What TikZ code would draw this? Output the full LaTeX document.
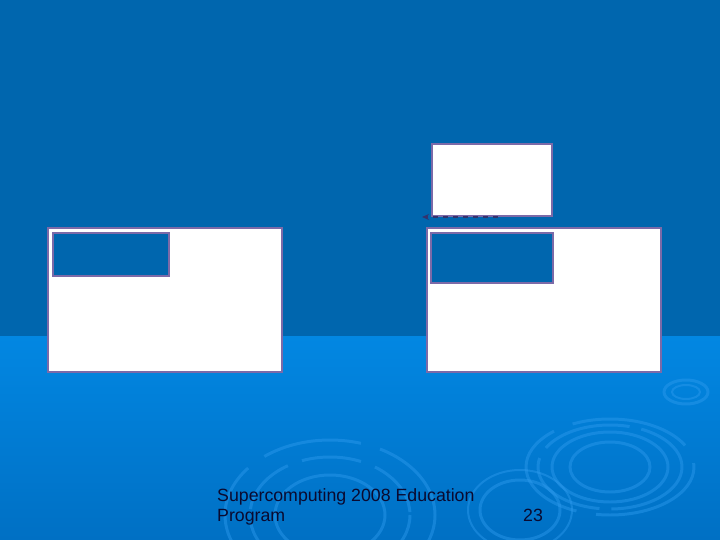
\documentclass[tikz,border=0pt]{standalone}
\usepackage{fontspec}
\setmainfont{Liberation Sans}
\usetikzlibrary{arrows.meta,decorations.markings}
\definecolor{topblue}{HTML}{0066AE}
\definecolor{lowblue}{HTML}{0287E2}
\definecolor{botblue}{HTML}{0070C4}
\definecolor{frame}{HTML}{7C6AA8}
\definecolor{ripple}{HTML}{2E9BEE}
\definecolor{navy}{HTML}{33336E}
\definecolor{textnavy}{HTML}{0A0A30}
\tikzset{
  whitebox/.style={draw=frame, line width=2.5pt, fill=white},
  bluebox/.style={draw=frame, line width=2.5pt, fill=topblue},
  ring/.style={draw=ripple, line width=3pt, opacity=0.45},
  caption/.style={font=\fontsize{17.8}{21}\selectfont, text=textnavy, anchor=base west, inner sep=0pt},
}
\begin{document}
\begin{tikzpicture}[x=1bp,y=-1bp]
\useasboundingbox (0,0) rectangle (720,540);
% background
\fill[topblue] (0,0) rectangle (720,336);
\shade[top color=lowblue, bottom color=botblue] (0,336) rectangle (720,540);
% ripples
\begin{scope}
\clip (0,336) rectangle (720,540);
\draw[ring] (610,467) ellipse (40 and 25);
\draw[ring] (610,467) ellipse (58 and 35);
\draw[ring, dash pattern=on 90 off 12] (610,467) ellipse (72 and 42);
\draw[ring, dash pattern=on 120 off 20] (610,467) ellipse (84 and 48);
\draw[ring] (686,392) ellipse (22 and 12);
\draw[ring, line width=2pt] (686,392) ellipse (14 and 7);
\draw[ring] (520,510) ellipse (40 and 30);
\draw[ring, line width=2pt] (520,510) ellipse (52 and 40);
\draw[ring] (330,515) ellipse (55 and 40);
\draw[ring, dash pattern=on 60 off 15] (330,515) ellipse (80 and 58);
\draw[ring, dash pattern=on 100 off 20] (330,515) ellipse (105 and 75);
\end{scope}
% boxes
\node[whitebox, minimum width=120bp, minimum height=72bp, inner sep=0pt] (top) at (492,180) {};
\node[whitebox, minimum width=234bp, minimum height=144bp, inner sep=0pt] (left) at (165,300) {};
\node[bluebox, minimum width=116bp, minimum height=43bp, inner sep=0pt] (lefti) at (111,254.5) {};
\node[whitebox, minimum width=234bp, minimum height=144bp, inner sep=0pt] (right) at (544,300) {};
\node[bluebox, minimum width=122bp, minimum height=50bp, inner sep=0pt] (righti) at (492,258) {};
% dotted arrow
\coordinate (as) at (498,217);
\coordinate (ae) at (422,217);
\draw[navy, line width=2.5pt, dash pattern=on 5bp off 5bp, -{Stealth[length=7bp,width=6bp]}] (as) -- (ae);
% texts
\node[caption] (t1) at (217,501) {Supercomputing 2008 Education};
\node[caption] (t2) at (217,521) {Program};
\node[caption] (t3) at (523,521) {23};
\end{tikzpicture}
\end{document}
